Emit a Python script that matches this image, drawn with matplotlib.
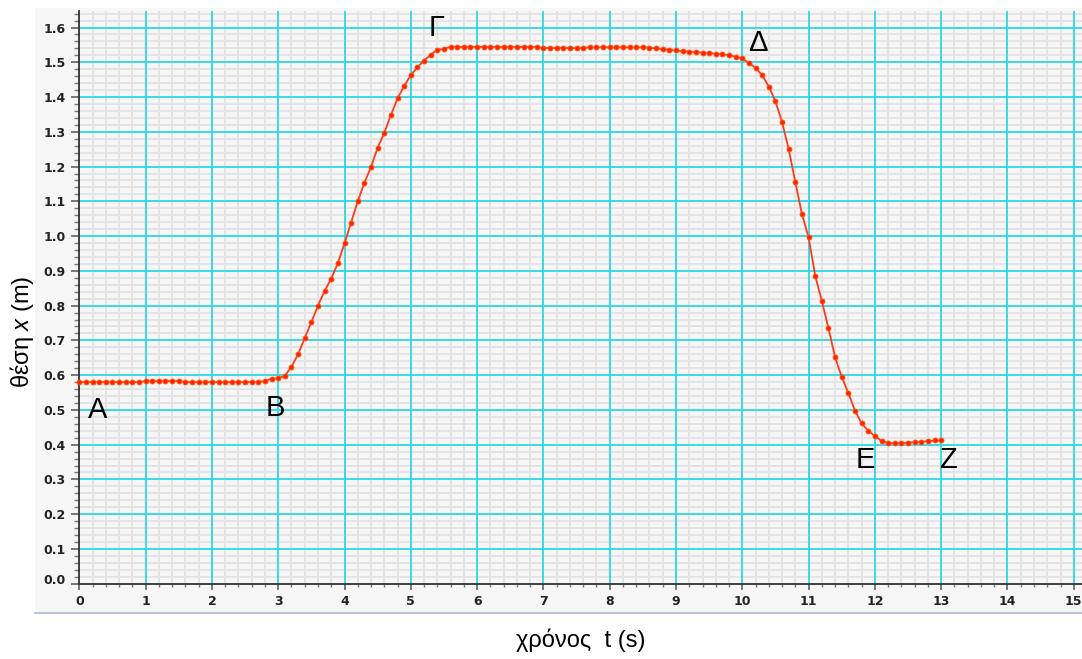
import numpy as np
import matplotlib
matplotlib.use("Agg")
import matplotlib.pyplot as plt
from matplotlib.ticker import MultipleLocator, FixedLocator
from matplotlib.patches import Rectangle
from matplotlib.lines import Line2D
import matplotlib.transforms as mtransforms

plt.rcParams['font.family'] = ['Liberation Sans', 'DejaVu Sans']
plt.rcParams['mathtext.fontset'] = 'custom'
plt.rcParams['mathtext.it'] = 'Liberation Sans:italic'
plt.rcParams['mathtext.rm'] = 'Liberation Sans'

# ---- data (position x in m, sampled every 0.1 s from 0 to 13 s) ----
sample_step = 0.1
position = [
    0.580, 0.580, 0.580, 0.580, 0.580, 0.580, 0.580, 0.580, 0.580, 0.580,
    0.583, 0.583, 0.583, 0.583, 0.583, 0.583,
    0.580, 0.580, 0.580, 0.580, 0.580, 0.580, 0.580, 0.580, 0.580, 0.580, 0.580, 0.580,
    0.583, 0.590, 0.591, 0.598, 0.624, 0.660, 0.707, 0.752, 0.800, 0.842,
    0.878, 0.922, 0.979, 1.039, 1.100, 1.153, 1.199, 1.254, 1.297, 1.348,
    1.396, 1.432, 1.463, 1.486, 1.505, 1.522, 1.536, 1.538, 1.545,
    1.544, 1.544, 1.544, 1.544, 1.544, 1.544, 1.544, 1.544, 1.544, 1.544, 1.544, 1.544, 1.544,
    1.541, 1.541, 1.541, 1.541, 1.541, 1.541, 1.541,
    1.543, 1.543, 1.543, 1.543, 1.543, 1.543, 1.543, 1.543, 1.543,
    1.542, 1.540, 1.538, 1.536, 1.534, 1.532, 1.531, 1.529, 1.528, 1.526,
    1.525, 1.523, 1.520, 1.516,
    1.511, 1.498, 1.484, 1.463, 1.430, 1.388, 1.328, 1.250, 1.155, 1.063,
    0.996, 0.886, 0.813, 0.735, 0.651, 0.595, 0.548, 0.498, 0.461, 0.440,
    0.425, 0.411, 0.405, 0.404, 0.405, 0.406, 0.407, 0.408, 0.410, 0.412, 0.412,
]
time = np.round(np.arange(len(position)) * sample_step, 1)

point_labels = ['A', 'B', 'Γ', 'Δ', 'E', 'Z']
label_t = [0.27, 2.95, 5.39, 10.24, 11.86, 13.1]
label_x = [0.50, 0.505, 1.60, 1.556, 0.356, 0.356]

x_ticks = list(range(0, 16))
y_ticks = [round(0.1 * i, 1) for i in range(17)]
y_ticklabels = [f"{v:.1f}" for v in y_ticks]

xlabel = "χρόνος  t (s)"
ylabel = r"θέση $x$ (m)"

# ---- figure ----
W, H = 1082, 659
fig = plt.figure(figsize=(W / 100, H / 100), dpi=100)
fig.patch.set_facecolor('white')

# light gray panel behind the graph
fig.add_artist(Rectangle((35 / W, 1 - 612 / H), 1 - 35 / W, (612 - 8) / H,
                         transform=fig.transFigure, facecolor='#f6f6f6',
                         edgecolor='none', zorder=0))
fig.add_artist(Line2D([35 / W, 1], [1 - 612.5 / H] * 2, transform=fig.transFigure,
                      color='#a9b9d2', lw=1.2, zorder=1))

ax_left, ax_right = 79.3 / W, 1.0
ax_bottom, ax_top = 1 - 583.7 / H, 1 - 11.3 / H
ax = fig.add_axes([ax_left, ax_bottom, ax_right - ax_left, ax_top - ax_bottom])
ax.set_facecolor('#f6f6f6')
ax.set_xlim(0, (1082 - 79.3) / 66.3)
ax.set_ylim(0, (583.7 - 11.3) / 347.6)

ax.xaxis.set_major_locator(FixedLocator(x_ticks))
ax.xaxis.set_minor_locator(MultipleLocator(0.2))
ax.yaxis.set_major_locator(FixedLocator(y_ticks))
ax.yaxis.set_minor_locator(MultipleLocator(0.02))
ax.set_yticklabels(y_ticklabels)

# light gray minor grid, cyan major grid drawn on top
ax.grid(which='minor', color='#e4e4e4', lw=1.4, linestyle='-')
ax.set_axisbelow(True)
for xv in x_ticks[1:]:
    ax.axvline(xv, color='#2dd8e6', lw=1.3, zorder=1)
for yv in y_ticks[1:]:
    ax.axhline(yv, color='#2dd8e6', lw=1.3, zorder=1)

for s in ['top', 'right']:
    ax.spines[s].set_visible(False)
for s in ['left', 'bottom']:
    ax.spines[s].set_color('#333333')
    ax.spines[s].set_linewidth(1.3)
    ax.spines[s].set_zorder(2)

ax.tick_params(axis='y', which='major', length=6, width=1.1, color='#555555', pad=4)
ax.tick_params(axis='y', which='minor', length=3.5, width=1.0, color='#777777')
ax.tick_params(axis='x', which='major', length=4, width=1.1, color='#555555', pad=4)
ax.tick_params(axis='x', which='minor', length=2.5, width=1.0, color='#777777')
for lab in ax.get_xticklabels() + ax.get_yticklabels():
    lab.set_fontsize(9)
    lab.set_fontweight('bold')
    lab.set_family('DejaVu Sans')
    lab.set_color('#222222')

# shift the 0.0 label slightly up as in the reference
yl = ax.get_yticklabels()
off = mtransforms.ScaledTranslation(0, 5 / 100, fig.dpi_scale_trans)
yl[0].set_transform(yl[0].get_transform() + off)

ax.plot(time, position, color='#ff3a1c', lw=1.3, marker='o', ms=3.6,
        mfc='#ff2200', mec='#ff5a10', mew=0.6, zorder=3, clip_on=False)

for lab, tx, vx in zip(point_labels, label_t, label_x):
    ax.text(tx, vx, lab, fontsize=21, ha='center', va='center', color='black',
            zorder=4)

fig.text(581 / W, 1 - 640 / H, xlabel, fontsize=17, ha='center', va='center')
fig.text(22 / W, 1 - 332 / H, ylabel, fontsize=17, ha='center', va='center',
         rotation=90)

fig.savefig('out.png', dpi=100)
